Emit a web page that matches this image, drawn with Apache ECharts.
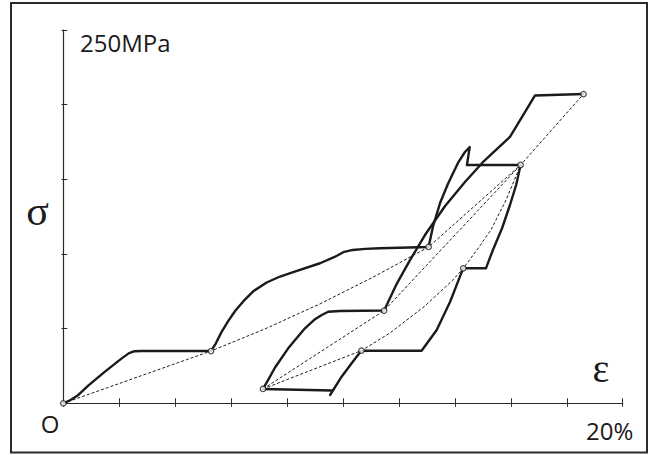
<!DOCTYPE html>
<html>
<head>
<meta charset="utf-8">
<style>
  html, body { margin: 0; padding: 0; background: #ffffff; }
  #chart { width: 657px; height: 455px; }
</style>
<script src="https://cdn.jsdelivr.net/npm/echarts@6.0.0/dist/echarts.min.js"></script>
</head>
<body>
<div id="chart"></div>
<script>
// Strain ε in %, stress σ in MPa.
const strainMin = 0, strainMax = 20, strainStep = 2;
const stressMin = 0, stressMax = 250, stressStep = 50;

// Axis end labels and symbols
const originLabel = 'O';
const strainEndLabel = '20%';
const stressEndLabel = '250MPa';
const stressSymbol = 'σ';
const strainSymbol = 'ε';

// Path A: loading from the origin with creep holds at 35, 105 and 160 MPa
const curveA = [
  [0, 0], [0.2, 1.6], [0.5, 5.0], [0.89, 11.8], [1.49, 21.2], [2.09, 30.1], [2.35, 33.6], [2.55, 34.9], [2.8, 35], [5.28, 35],
  [5.45, 40.0], [5.65, 47.5], [5.90, 55.2], [6.15, 62.0], [6.44, 68.4], [6.79, 75.0], [7.27, 80.9], [7.75, 84.9],
  [8.22, 87.9], [9.18, 93.8], [9.70, 98.0], [10.01, 101.2], [10.35, 102.7], [10.8, 103.4], [11.32, 103.8], [13.06, 104.7],
  [13.22, 118.6], [13.47, 134.1], [13.75, 146.9], [14.11, 161.0], [14.36, 168.3], [14.53, 171.6],
  [14.43, 159.6], [16.35, 159.6]
];

// Path B: reloading from the second start point, holds at 62 and 207 MPa
const curveB = [
  [7.14, 9.6], [7.35, 16.5], [7.57, 24.0], [8.04, 36.8], [8.64, 50.2], [9.0, 56.3], [9.24, 59.1], [9.47, 61.3], [9.89, 61.8], [11.47, 62.1],
  [11.90, 79.3], [12.40, 96.0], [12.93, 112.7], [13.65, 132.1], [14.36, 148.2], [15.01, 161.6],
  [15.97, 178.5], [16.51, 195.1], [16.86, 206.1], [18.60, 207.1]
];

// Path C: initial hold at low stress, then steps to 35, 90 and 160 MPa
const curveCHold = [[7.14, 9.6], [9.61, 8.6]];
const curveC = [
  [9.54, 5.6], [9.65, 8.9], [9.95, 17.8], [10.31, 26.8], [10.66, 35.3], [12.81, 35.2],
  [13.35, 49.1], [13.83, 68.0], [14.18, 84.8], [14.30, 90.4], [15.11, 90.4],
  [15.36, 102.7], [15.69, 117.4], [15.97, 132.8], [16.19, 146.2], [16.35, 159.6]
];

// Thin dashed curves through the end points of the holds
const isoLine1 = [
  [0, 0], [5.28, 35], [7.21, 49.8], [9.18, 66.6], [11.14, 85.1], [13.06, 104.7],
  [16.35, 159.6], [18.60, 207.1]
];
const isoLine2 = [[7.14, 9.6], [11.47, 62.1], [16.35, 159.6]];
const isoLine3 = [
  [7.14, 9.6], [10.66, 35.3], [11.68, 47.1], [12.93, 65.2], [13.93, 82.6], [14.30, 90.4],
  [14.79, 102.7], [15.29, 116.1], [15.83, 136.2], [16.35, 159.6]
];

// Hold end points (open circles)
const holdPoints = [
  [0, 0], [5.28, 35], [13.06, 104.7], [16.35, 159.6], [18.60, 207.1],
  [7.14, 9.6], [10.66, 35.3], [14.30, 90.4], [11.47, 62.1]
];

const ink = '#1c1a1b';
const axisInk = '#2a2a2a';

function thick(data) {
  return {
    type: 'line', data: data, symbol: 'none', silent: true, z: 3,
    lineStyle: { color: ink, width: 2.4, join: 'round', cap: 'round' }
  };
}
function dashed(data) {
  return {
    type: 'line', data: data, symbol: 'none', silent: true, z: 2,
    lineStyle: { color: '#1f1f1f', width: 1, type: [3, 2] }
  };
}
function valueAxis(min, max, step, pos, inside, len, showLine) {
  return {
    type: 'value', min: min, max: max, interval: step, position: pos,
    axisLine: { show: showLine, onZero: false, lineStyle: { color: axisInk, width: 1.2 } },
    axisTick: { show: true, inside: inside, length: len, lineStyle: { color: axisInk, width: 1 } },
    axisLabel: { show: false },
    splitLine: { show: false }
  };
}

const chart = echarts.init(document.getElementById('chart'), null, { renderer: 'svg' });
chart.setOption({
  animation: false,
  backgroundColor: '#ffffff',
  grid: { left: 63.3, right: 34.3, top: 30, bottom: 51.7, containLabel: false },
  xAxis: [
    valueAxis(strainMin, strainMax, strainStep, 'bottom', true, 5, true),
    valueAxis(strainMin, strainMax, strainStep, 'bottom', false, 3.5, false)
  ],
  yAxis: [
    valueAxis(stressMin, stressMax, stressStep, 'left', true, 4, true),
    valueAxis(stressMin, stressMax, stressStep, 'left', false, 1.8, false)
  ],
  series: [
    dashed(isoLine1),
    dashed(isoLine2),
    dashed(isoLine3),
    thick(curveA),
    thick(curveB),
    thick(curveCHold),
    thick(curveC),
    {
      type: 'scatter', data: holdPoints, symbol: 'circle', symbolSize: 5.5, silent: true, z: 5,
      itemStyle: { color: '#ffffff', borderColor: ink, borderWidth: 1.2 }
    }
  ],
  graphic: [
    {
      type: 'rect', silent: true,
      shape: { x: 11, y: 3, width: 636, height: 449.5 },
      style: { fill: 'none', stroke: '#2b2b2b', lineWidth: 2 }
    },
    {
      type: 'text', x: 80, y: 42.5, silent: true,
      style: { text: stressEndLabel, font: '24px "Open Sans"', fill: ink, align: 'left', verticalAlign: 'middle' }
    },
    {
      type: 'text', x: 50, y: 423, silent: true,
      style: { text: originLabel, font: '24px "Open Sans"', fill: ink, align: 'center', verticalAlign: 'middle' }
    },
    {
      type: 'text', x: 609.7, y: 430, silent: true,
      style: { text: strainEndLabel, font: '24px "Open Sans"', fill: ink, align: 'center', verticalAlign: 'middle' }
    },
    {
      type: 'text', x: 37.5, y: 211, silent: true,
      style: { text: stressSymbol, font: '42px "Liberation Serif"', fill: ink, align: 'center', verticalAlign: 'middle' }
    },
    {
      type: 'text', x: 601, y: 368, silent: true,
      style: { text: strainSymbol, font: '40px "Liberation Serif"', fill: ink, align: 'center', verticalAlign: 'middle' }
    }
  ]
});
</script>
</body>
</html>
